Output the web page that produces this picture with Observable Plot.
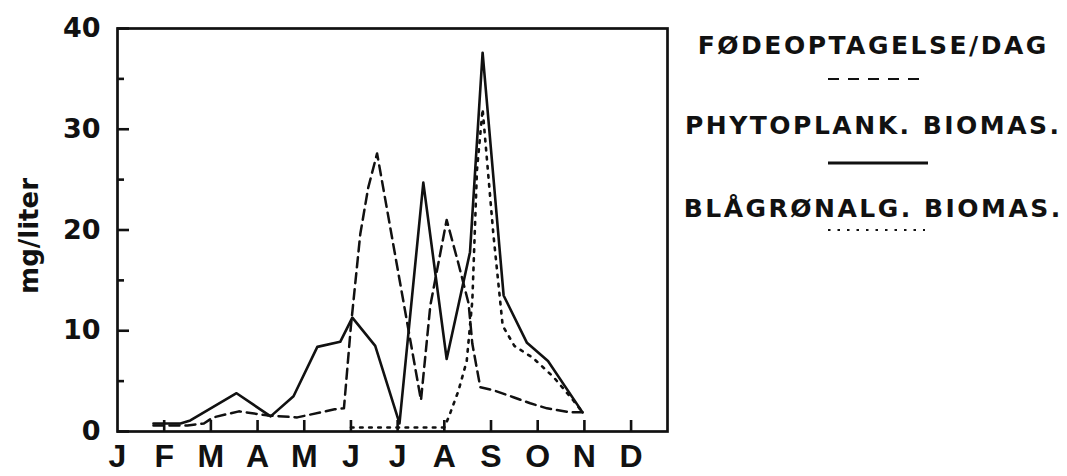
<!DOCTYPE html>
<html>
<head>
<meta charset="utf-8">
<script src="https://cdn.jsdelivr.net/npm/d3@7"></script>
<script src="https://cdn.jsdelivr.net/npm/@observablehq/plot@0.6"></script>
<style>
  body { margin: 0; background: #fff; }
  #wrap { position: relative; width: 1067px; height: 476px; background: #fff; overflow: hidden; }
  #chart { position: absolute; left: 0; top: 0; }
  .lg { position: absolute; left: 672px; width: 400px; text-align: center; font-family: "DejaVu Sans"; font-weight: bold; font-size: 25px; line-height: 25px; letter-spacing: 2.5px; white-space: nowrap; color: #111; padding-left: 2.5px; box-sizing: border-box; }
  .smp { position: absolute; }
</style>
</head>
<body>
<div id="wrap"><div id="chart"></div><div id="legend"></div></div>
<script>
// Month tick labels (position index 0 = January)
const months = ["J","F","M","A","M","J","J","A","S","O","N","D"];
const monthIdx = [0,1,2,3,4,5,6,7,8,9,10,11];
const yMajor = [0,10,20,30,40];
const yMinor = [5,15,25,35];
const yLabel = "mg/liter";

// Series names (legend)
const seriesNames = ["FØDEOPTAGELSE/DAG", "PHYTOPLANK. BIOMAS.", "BLÅGRØNALG. BIOMAS."];

// FØDEOPTAGELSE/DAG (dashed) — x in months from start of January
const feedX = [0.77, 1.5, 1.85, 2.05, 2.6, 3.2, 3.85, 4.65, 4.85, 5.0, 5.2, 5.37, 5.56, 6.5, 6.7, 7.05, 7.3, 7.52, 7.6, 7.77, 8.05, 8.48, 8.84, 9.2, 9.7, 9.96];
const feedY = [0.6, 0.6, 0.8, 1.4, 2.0, 1.6, 1.4, 2.2, 2.3, 10.5, 19.6, 24.2, 27.6, 3.1, 12.5, 21.0, 16.7, 12.7, 8.7, 4.4, 4.1, 3.4, 2.8, 2.3, 1.9, 1.9];

// PHYTOPLANK. BIOMAS. (solid)
const phytoX = [0.77, 1.35, 1.56, 2.55, 3.28, 3.77, 4.28, 4.77, 5.03, 5.52, 6.04, 6.55, 7.05, 7.55, 7.82, 8.27, 8.77, 9.22, 9.96];
const phytoY = [0.8, 0.8, 1.1, 3.8, 1.5, 3.5, 8.4, 8.9, 11.3, 8.5, 0.8, 24.7, 7.2, 17.8, 37.6, 13.5, 8.8, 7.0, 1.9];

// BLÅGRØNALG. BIOMAS. (dotted)
const cyanoX = [5.0, 7.0, 7.1, 7.3, 7.48, 7.6, 7.7, 7.82, 8.05, 8.25, 8.5, 8.9, 9.34, 9.76, 9.96];
const cyanoY = [0.4, 0.4, 1.5, 4.0, 7.0, 13.0, 26.0, 32.0, 19.6, 10.5, 8.5, 7.3, 5.4, 3.1, 1.9];

const toRows = (xs, ys) => xs.map((x, i) => ({x, y: ys[i]}));
const feed = toRows(feedX, feedY);
const phyto = toRows(phytoX, phytoY);
const cyano = toRows(cyanoX, cyanoY);

const W = 690, H = 476, ML = 117, MR = 23, MT = 28, MB = 45;
const innerW = W - ML - MR, innerH = H - MT - MB;

const chart = Plot.plot({
  width: W,
  height: H,
  marginLeft: ML,
  marginRight: MR,
  marginTop: MT,
  marginBottom: MB,
  x: {domain: [0, 11.78]},
  y: {domain: [0, 40]},
  style: {fontFamily: "DejaVu Sans", fontWeight: "bold", fontSize: "27px", color: "#111", background: "white", overflow: "visible"},
  marks: [
    Plot.axisY(yMajor, {tickSize: 0, tickPadding: 17, label: null}),
    Plot.axisX(monthIdx, {tickSize: 0, tickPadding: 13, tickFormat: (i) => months[i], label: null, fontFamily: "Liberation Sans", fontSize: 32}),
    // inward tick marks
    Plot.ruleY(yMajor, {y: (d) => d, insetRight: innerW - 12, strokeWidth: 2.6}),
    Plot.ruleY(yMinor, {y: (d) => d, insetRight: innerW - 7, strokeWidth: 2.6}),
    Plot.ruleX(monthIdx.slice(1), {x: (d) => d, insetTop: innerH - 11, strokeWidth: 2.6}),
    Plot.text([yLabel], {frameAnchor: "left", dx: -88, dy: 6, rotate: -90, textAnchor: "middle", fontSize: 26, text: (d) => d}),
    Plot.line(phyto, {x: "x", y: "y", strokeWidth: 2.6}),
    Plot.line(feed, {x: "x", y: "y", strokeWidth: 2.5, strokeDasharray: "10,6"}),
    Plot.line(cyano, {x: "x", y: "y", strokeWidth: 2.6, strokeDasharray: "2.6,6.5"}),
    Plot.frame({strokeWidth: 2.7})
  ]
});
document.getElementById("chart").append(chart);

// Legend to the right of the plot
const legend = document.getElementById("legend");
const textTops = [33, 113, 196];
seriesNames.forEach((name, i) => {
  const d = document.createElement("div");
  d.className = "lg";
  d.style.top = textTops[i] + "px";
  d.textContent = name;
  legend.append(d);
});
const samples = [
  {left: 828, top: 76, w: 92, dash: "11,9", sw: 2.2},
  {left: 828, top: 160, w: 100, dash: null, sw: 3},
  {left: 828, top: 227, w: 97, dash: "2.5,7", sw: 2.2}
];
samples.forEach((s) => {
  const svg = d3.create("svg").attr("class", "smp").attr("width", s.w).attr("height", 6)
    .style("left", s.left + "px").style("top", s.top + "px");
  const ln = svg.append("line").attr("x1", 0).attr("x2", s.w).attr("y1", 3).attr("y2", 3)
    .attr("stroke", "#111").attr("stroke-width", s.sw);
  if (s.dash) ln.attr("stroke-dasharray", s.dash);
  legend.append(svg.node());
});
</script>
</body>
</html>
